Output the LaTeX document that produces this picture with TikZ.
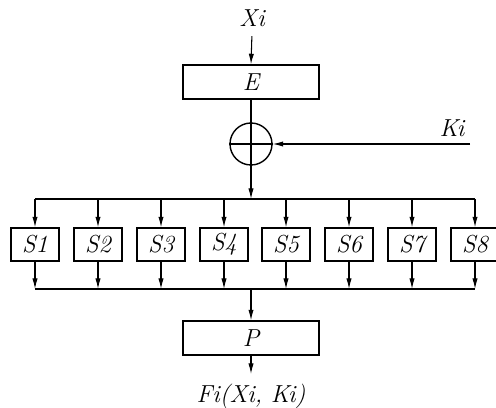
\documentclass[tikz,border=0pt]{standalone}
\usepackage{tikz}
\usetikzlibrary{arrows.meta, positioning, calc}

\begin{document}
\begin{tikzpicture}[
    x=0.02cm, y=-0.02cm,
    font=\fontsize{14}{16}\selectfont\itshape,
    wide/.style={rectangle, draw, line width=0.8pt, minimum width=2.72cm, minimum height=0.68cm, inner sep=0pt},
    sbox/.style={rectangle, draw, line width=0.8pt, minimum width=0.96cm, minimum height=0.66cm, inner sep=0pt},
    xorring/.style={circle, draw, line width=0.8pt, minimum size=0.84cm, inner sep=0pt},
    arrow/.style={-{Latex[length=6pt, width=3pt]}, line width=0.6pt},
    line/.style={line width=0.6pt},
]
\useasboundingbox (0,0) rectangle (496,408);

% Input and expansion
\node (xi) at (252,18) {Xi};
\node[wide] (e) at (251,82) {E};
\draw[arrow, shorten <=2pt] (xi.south) -- (e.north);

% Key mixing
\node[xorring] (xor) at (251,144) {};
\draw[line] (xor.north) -- (xor.south);
\draw[line] (xor.west) -- (xor.east);
\draw[line] (e.south) -- (xor.north);
\node (ki) at (452,128) {Ki};
\coordinate (kin) at (470,144);
\draw[arrow] (kin) -- (xor.east);

% Buses
\coordinate (topl) at (35,199);
\coordinate (topr) at (475,199);
\coordinate (botl) at (35,289);
\coordinate (botr) at (475,289);
\draw[line] (topl) -- (topr);
\draw[line] (botl) -- (botr);
\draw[arrow] (xor.south) -- (xor.south |- topl);

% S-boxes
\foreach \x [count=\i] in {35,98,161,224,286,349,412,475} {
    \node[sbox] (s\i) at (\x,244.5) {S\i};
    \draw[arrow] (s\i.north |- topl) -- (s\i.north);
    \draw[arrow] (s\i.south) -- (s\i.south |- botl);
}

% Permutation and output
\node[wide] (p) at (251,338) {P};
\draw[arrow] (p.north |- botl) -- (p.north);
\node (fi) at (251,396) {Fi(Xi, Ki)};
\draw[arrow, shorten >=2pt] (p.south) -- (fi.north);

\end{tikzpicture}
\end{document}
